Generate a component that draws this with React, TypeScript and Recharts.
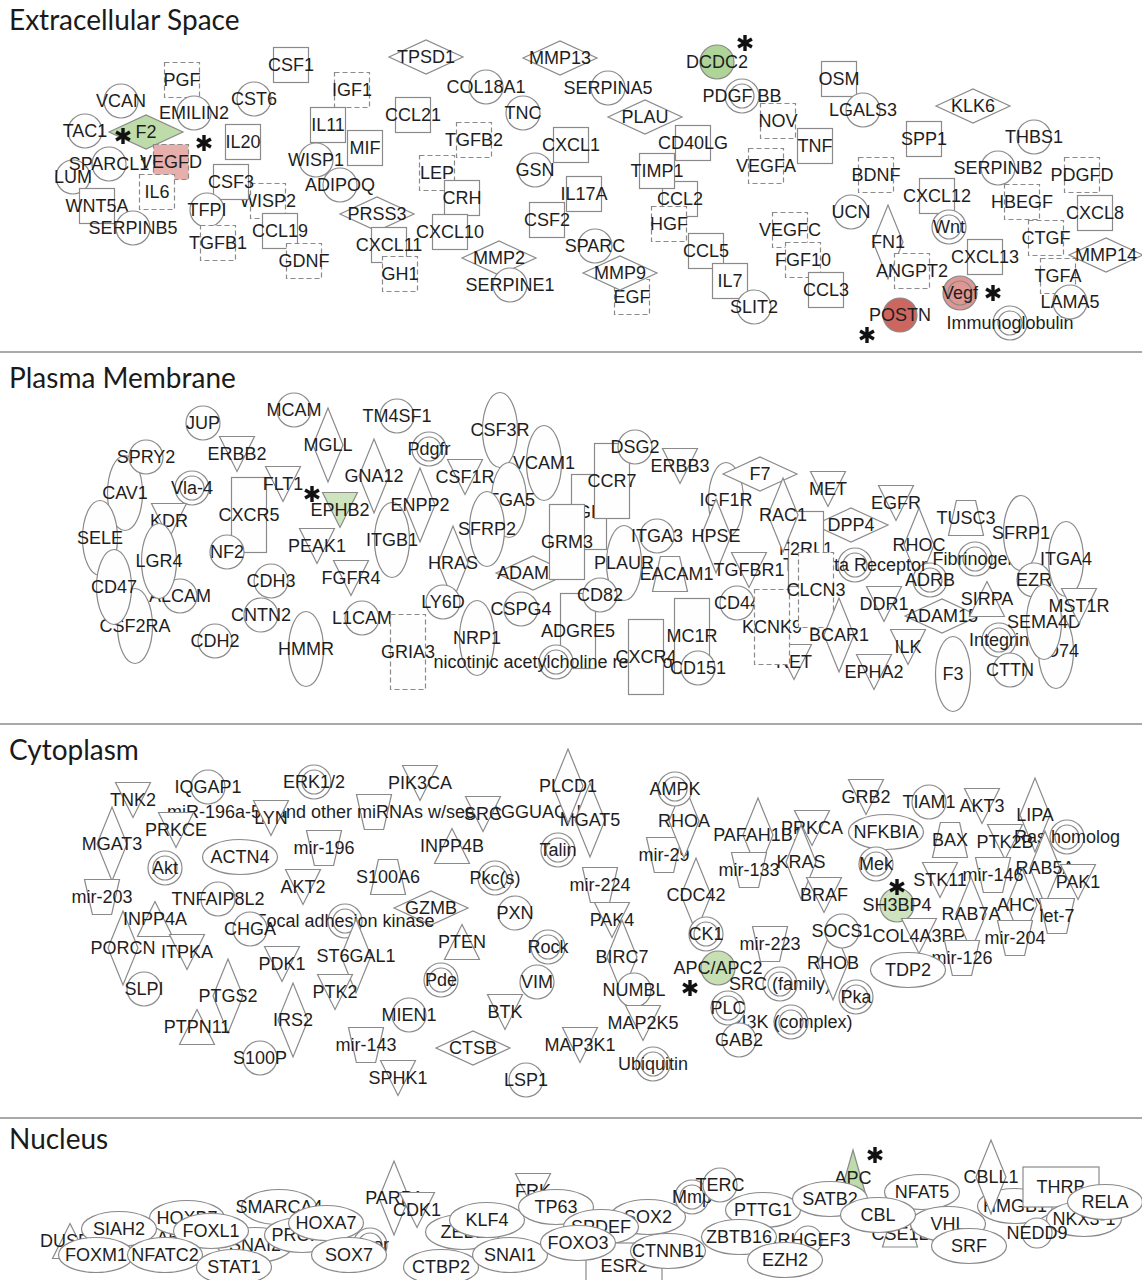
import React from "react";
import { ScatterChart, Scatter, XAxis, YAxis, ReferenceLine } from "recharts";

const W = 1142;
const H = 1280;

// [label, x, y, node type]
type Row = [string, number, number, string];

const sectionNames = ["Extracellular Space", "Plasma Membrane", "Cytoplasm", "Nucleus"];
const sectionTitleY = [20, 378, 750, 1139];
const dividerY = [352, 724, 1118];

const extracellular: Row[] = [
  ["CSF1", 291, 65, "sq"], ["PGF", 182, 80, "dsq"], ["TPSD1", 426, 57, "dh"], ["MMP13", 560, 58, "dh"],
  ["VCAN", 121, 101, "c"], ["CST6", 254, 99, "c"], ["IGF1", 352, 90, "dsq"], ["EMILIN2", 194, 113, "c"],
  ["COL18A1", 486, 87, "c"], ["SERPINA5", 608, 88, "c"], ["DCDC2", 717, 62, "c"], ["PDGF BB", 742, 96, "cc"],
  ["OSM", 839, 79, "sq"], ["LGALS3", 863, 110, "c"], ["KLK6", 973, 106, "dh"], ["TAC1", 85, 131, "c"],
  ["LUM", 73, 177, "c"], ["SPARCL1", 109, 164, "c"], ["F2", 146, 132, "dh"], ["VEGFD", 171, 162, "dsq"],
  ["IL20", 243, 142, "sq"], ["IL11", 328, 125, "sq"], ["MIF", 365, 148, "sq"], ["WISP1", 316, 160, "c"],
  ["ADIPOQ", 340, 185, "c"], ["CCL21", 413, 115, "sq"], ["TNC", 523, 113, "c"], ["PLAU", 645, 117, "dh"],
  ["NOV", 778, 121, "dsq"], ["TGFB2", 474, 140, "dsq"], ["CXCL1", 571, 145, "sq"], ["CD40LG", 693, 143, "sq"],
  ["TNF", 815, 146, "sq"], ["VEGFA", 766, 166, "dsq"], ["SPP1", 924, 139, "sq"], ["THBS1", 1034, 137, "c"],
  ["LEP", 437, 173, "dsq"], ["GSN", 535, 170, "c"], ["CCL2", 680, 199, "sq"], ["TIMP1", 657, 171, "sq"],
  ["HGF", 669, 224, "dsq"], ["BDNF", 876, 175, "dsq"], ["SERPINB2", 998, 168, "c"], ["PDGFD", 1082, 175, "dsq"],
  ["IL6", 157, 192, "dsq"], ["WNT5A", 97, 206, "sq"], ["SERPINB5", 133, 228, "c"], ["WISP2", 268, 201, "dsq"],
  ["CSF3", 231, 182, "sq"], ["TFPI", 207, 210, "c"], ["CCL19", 280, 231, "sq"], ["TGFB1", 218, 243, "dsq"],
  ["GDNF", 304, 261, "dsq"], ["PRSS3", 377, 214, "dh"], ["CXCL11", 389, 245, "sq"], ["GH1", 400, 274, "dsq"],
  ["CRH", 462, 198, "sq"], ["CXCL10", 450, 232, "sq"], ["IL17A", 584, 194, "sq"], ["CSF2", 547, 220, "sq"],
  ["SPARC", 595, 246, "c"], ["MMP2", 499, 258, "dh"], ["SERPINE1", 510, 285, "c"], ["EGF", 632, 297, "dsq"],
  ["MMP9", 620, 273, "dh"], ["CCL5", 706, 251, "sq"], ["IL7", 730, 281, "sq"], ["SLIT2", 754, 307, "c"],
  ["VEGFC", 790, 230, "dsq"], ["FGF10", 803, 260, "dsq"], ["CCL3", 826, 290, "sq"], ["CXCL12", 937, 196, "sq"],
  ["HBEGF", 1022, 202, "dsq"], ["UCN", 851, 212, "c"], ["CXCL8", 1095, 213, "sq"], ["Wnt", 949, 227, "cc"],
  ["CTGF", 1046, 238, "dsq"], ["FN1", 888, 242, "dv"], ["CXCL13", 985, 257, "sq"], ["MMP14", 1106, 255, "dh"],
  ["ANGPT2", 912, 271, "dsq"], ["TGFA", 1058, 276, "dsq"], ["Immunoglobulin", 1010, 323, "cc"],
  ["Vegf", 960, 293, "cc"], ["LAMA5", 1070, 302, "c"], ["POSTN", 900, 315, "c"],
];

const plasma: Row[] = [
  ["JUP", 203, 423, "c"], ["MCAM", 294, 410, "c"], ["TM4SF1", 397, 416, "c"], ["CAV1", 125, 493, "ev"],
  ["SPRY2", 146, 457, "c"], ["SELE", 100, 538, "ev"], ["ALCAM", 180, 596, "c"], ["CSF2RA", 135, 626, "ev"],
  ["CD47", 114, 587, "ev"], ["ERBB2", 237, 454, "td"], ["Vla-4", 192, 488, "cc"], ["KDR", 169, 521, "td"],
  ["LGR4", 159, 561, "ev"], ["CXCR5", 249, 515, "rv"], ["NF2", 227, 552, "c"], ["FLT1", 283, 484, "td"],
  ["MGLL", 328, 445, "dv"], ["GNA12", 374, 476, "dv"], ["EPHB2", 340, 510, "td"], ["PEAK1", 317, 546, "td"],
  ["ITGB1", 392, 540, "ev"], ["FGFR4", 351, 578, "td"], ["CDH3", 271, 581, "c"], ["CNTN2", 261, 615, "c"],
  ["L1CAM", 362, 618, "c"], ["CDH2", 215, 641, "c"], ["HMMR", 306, 649, "ev"], ["GRIA3", 408, 652, "drv"],
  ["Pdgfr", 429, 449, "cc"], ["ENPP2", 420, 505, "dv"], ["CSF3R", 500, 430, "ev"], ["VCAM1", 544, 463, "ev"],
  ["ITGA5", 509, 500, "ev"], ["CSF1R", 465, 477, "td"], ["SFRP2", 487, 529, "ev"], ["HRAS", 453, 563, "dv"],
  ["LY6D", 443, 602, "c"], ["NRP1", 477, 638, "ev"], ["CSPG4", 521, 609, "c"], ["ADAM10", 533, 573, "dh"],
  ["ADGRB3", 589, 512, "rv"], ["CCR7", 612, 481, "rv"], ["GRM3", 567, 542, "rv"], ["DSG2", 635, 447, "c"],
  ["ERBB3", 680, 466, "td"], ["CEACAM1", 670, 574, "trap"], ["PLAUR", 624, 563, "ev"], ["ITGA3", 657, 536, "c"],
  ["ADGRE5", 578, 631, "rv"], ["CD82", 600, 595, "c"], ["nicotinic acetylcholine receptor", 556, 662, "cc"],
  ["CXCR4", 646, 657, "rv"], ["MC1R", 692, 636, "rv"], ["CD151", 698, 668, "c"], ["IGF1R", 726, 500, "ev"],
  ["F7", 760, 474, "dh"], ["HPSE", 716, 536, "dv"], ["TGFBR1", 749, 570, "td"], ["CD44", 737, 603, "c"],
  ["RET", 794, 662, "td"], ["KCNK9", 772, 627, "drv"], ["MET", 828, 489, "td"], ["DPP4", 851, 525, "dh"],
  ["EGFR", 896, 503, "td"], ["RHOC", 919, 545, "dv"], ["ADRB", 930, 580, "cc"],
  ["Tgf beta Receptor", 855, 565, "cc"], ["F2RL1", 806, 549, "rv"], ["RAC1", 783, 515, "dv"],
  ["CLCN3", 816, 590, "drv"], ["BCAR1", 839, 635, "dv"], ["DDR1", 884, 604, "td"], ["ILK", 908, 647, "td"],
  ["EPHA2", 874, 672, "td"], ["TUSC3", 966, 518, "trap"], ["Fibrinogen", 975, 559, "cc"], ["SFRP1", 1021, 533, "ev"],
  ["ADAM15", 942, 616, "dh"], ["SIRPA", 987, 599, "tu"], ["F3", 953, 674, "ev"], ["Integrin", 999, 640, "cc"],
  ["CD74", 1056, 651, "ev"], ["EZR", 1034, 580, "c"], ["ITGA4", 1066, 559, "ev"], ["SEMA4D", 1044, 622, "ev"],
  ["MST1R", 1079, 606, "td"], ["CTTN", 1010, 670, "c"],
];

const cytoplasm: Row[] = [
  ["miR-196a-5p and other miRNAs w/seed AGGUAGU", 374, 812, "mir"], ["IQGAP1", 208, 787, "c"],
  ["TNK2", 133, 800, "td"], ["MGAT3", 112, 844, "dv"], ["PRKCE", 176, 830, "td"], ["LYN", 271, 818, "td"],
  ["ERK1/2", 314, 782, "cc"], ["PIK3CA", 420, 783, "td"], ["SRC", 483, 814, "td"], ["MGAT5", 590, 820, "dv"],
  ["PLCD1", 568, 786, "dv"], ["Akt", 165, 868, "cc"], ["ACTN4", 240, 857, "eh"], ["mir-196", 324, 848, "mir"],
  ["INPP4B", 452, 846, "tu"], ["Talin", 558, 850, "cc"], ["mir-203", 102, 897, "mir"],
  ["TNFAIP8L2", 218, 899, "c"], ["AKT2", 303, 887, "td"], ["S100A6", 388, 877, "trap"], ["Pkc(s)", 495, 878, "cc"],
  ["GZMB", 431, 908, "dh"], ["Focal adhesion kinase", 345, 921, "cc"], ["CHGA", 250, 929, "c"],
  ["PORCN", 123, 948, "dv"], ["INPP4A", 155, 919, "tu"], ["ITPKA", 187, 952, "td"], ["SLPI", 144, 989, "c"],
  ["PXN", 515, 913, "c"], ["PTEN", 462, 942, "tu"], ["Rock", 548, 947, "cc"], ["PDK1", 282, 964, "td"],
  ["ST6GAL1", 356, 956, "dv"], ["PTK2", 335, 992, "td"], ["PTGS2", 228, 996, "dv"], ["IRS2", 293, 1020, "dv"],
  ["PTPN11", 197, 1027, "tu"], ["S100P", 260, 1058, "c"], ["Pde", 441, 980, "cc"], ["VIM", 537, 982, "c"],
  ["MIEN1", 409, 1015, "c"], ["BTK", 505, 1012, "td"], ["mir-143", 366, 1045, "mir"], ["CTSB", 473, 1048, "dh"],
  ["MAP3K1", 580, 1045, "td"], ["SPHK1", 398, 1078, "td"], ["LSP1", 526, 1080, "c"], ["mir-224", 600, 885, "mir"],
  ["PAK4", 612, 920, "td"], ["BIRC7", 622, 957, "dv"], ["NUMBL", 634, 990, "c"], ["MAP2K5", 643, 1023, "td"],
  ["Ubiquitin", 653, 1064, "cc"], ["mir-29", 664, 855, "mir"], ["RHOA", 684, 821, "dv"], ["AMPK", 675, 789, "cc"],
  ["CDC42", 696, 895, "dv"], ["CK1", 706, 934, "cc"], ["PRKCA", 812, 828, "td"], ["PAFAH1B1", 758, 835, "dv"],
  ["mir-133", 749, 870, "mir"], ["KRAS", 801, 862, "dv"], ["BRAF", 824, 895, "td"], ["mir-223", 770, 944, "mir"],
  ["APC/APC2", 718, 968, "c"], ["PI3K (complex)", 791, 1022, "cc"], ["SRC (family)", 780, 984, "cc"],
  ["PLC", 728, 1008, "cc"], ["GAB2", 739, 1040, "c"], ["RHOB", 833, 963, "dv"], ["SOCS1", 842, 931, "c"],
  ["Pka", 856, 997, "cc"], ["GRB2", 866, 797, "td"], ["NFKBIA", 886, 832, "eh"], ["Mek", 876, 864, "cc"],
  ["TIAM1", 929, 802, "c"], ["AKT3", 982, 806, "td"], ["BAX", 950, 840, "trap"], ["LIPA", 1035, 815, "dv"],
  ["PTK2B", 1005, 842, "td"], ["Ras homolog", 1067, 837, "cc"], ["STK11", 940, 880, "td"],
  ["RAB5A", 1045, 868, "dv"], ["AHCY", 1022, 905, "dv"], ["mir-146", 993, 875, "mir"], ["SH3BP4", 897, 905, "c"],
  ["PAK1", 1078, 882, "td"], ["let-7", 1057, 916, "mir"], ["COL4A3BP", 919, 936, "td"], ["RAB7A", 971, 914, "dv"],
  ["mir-126", 962, 958, "mir"], ["mir-204", 1015, 938, "mir"], ["TDP2", 908, 970, "eh"],
];

const nucleus: Row[] = [
  ["HOXA5", 148, 1238, "eh"], ["DUSP6", 70, 1241, "tu"], ["HOXB7", 187, 1218, "eh"], ["SMARCA4", 279, 1207, "eh"],
  ["SNAI2", 255, 1245, "eh"], ["PROX1", 302, 1235, "eh"], ["SIAH2", 119, 1229, "eh"], ["FOXL1", 211, 1231, "eh"],
  ["HOXA7", 326, 1223, "eh"], ["FOXM1", 96, 1255, "eh"], ["NFATC2", 165, 1255, "eh"], ["STAT1", 234, 1267, "eh"],
  ["Ncor", 370, 1245, "cc"], ["SOX7", 349, 1255, "eh"], ["PARP1", 394, 1198, "dv"], ["CDK1", 417, 1210, "td"],
  ["ZEB1", 463, 1232, "eh"], ["KLF4", 487, 1220, "eh"], ["CTBP2", 441, 1267, "eh"], ["SNAI1", 510, 1255, "eh"],
  ["FRK", 533, 1191, "td"], ["TP63", 556, 1207, "eh"], ["SOX2", 648, 1217, "eh"], ["SPDEF", 601, 1227, "eh"],
  ["ESR2", 624, 1266, "rh"], ["FOXO3", 578, 1243, "eh"], ["CTNNB1", 668, 1251, "eh"], ["Mmp", 692, 1197, "cc"],
  ["TERC", 720, 1185, "c"], ["PTTG1", 763, 1210, "eh"], ["ARHGEF3", 808, 1240, "c"], ["ZBTB16", 739, 1237, "eh"],
  ["EZH2", 785, 1260, "eh"], ["APC", 853, 1178, "tu"], ["SATB2", 830, 1199, "eh"], ["NFAT5", 922, 1192, "eh"],
  ["CSE1L", 900, 1234, "trap"], ["VHL", 948, 1224, "eh"], ["CBL", 878, 1215, "eh"], ["SRF", 969, 1246, "eh"],
  ["HMGB1", 1015, 1206, "eh"], ["CBLL1", 991, 1177, "dv"], ["THRB", 1061, 1187, "rh"], ["NKX3-1", 1084, 1219, "eh"],
  ["NEDD9", 1037, 1233, "c"], ["RELA", 1105, 1202, "eh"],
];

// measured change for highlighted molecules (negative = down, positive = up)
const foldChange: [string, number][] = [
  ["F2", -1.6], ["DCDC2", -1.8], ["EPHB2", -1.4], ["APC/APC2", -1.5], ["SH3BP4", -1.4], ["APC", -1.6],
  ["VEGFD", 1.6], ["Vegf", 2.0], ["POSTN", 2.8],
];

const STROKE = "#8a8a8a";
const FONT = "'Liberation Sans', Arial, sans-serif";

const BASE: Record<string, [number, number]> = {
  c: [34, 34], cc: [34, 34], sq: [35, 35], dsq: [35, 35], dh: [74, 34], dv: [30, 74],
  td: [35, 35], tu: [35, 35], ev: [35, 75], eh: [75, 35], rv: [35, 75], drv: [35, 75],
  trap: [35, 35], mir: [35, 35], rh: [75, 40],
};

const SIZE_OVERRIDE: Record<string, [number, number]> = {
  APC: [32, 56], ESR2: [76, 46], THRB: [76, 40], NEDD9: [30, 32], ARHGEF3: [28, 28], CSE1L: [35, 26],
};

// asterisk offsets from node centre
const STAR: Record<string, [number, number]> = {
  F2: [-23, 4], VEGFD: [33, -19], DCDC2: [28, -19], POSTN: [-33, 20], Vegf: [33, 0],
  EPHB2: [-28, -16], "APC/APC2": [-28, 20], SH3BP4: [0, -18], APC: [22, -23],
};

const fcMap = new Map(foldChange);

const mix = (a: number[], b: number[], t: number) =>
  `rgb(${a.map((v, i) => Math.round(v + (b[i] - v) * t)).join(",")})`;

function fillFor(name: string) {
  const v = fcMap.get(name);
  if (v === undefined) return "#fefefe";
  if (v < 0) return mix([236, 244, 228], [160, 204, 132], Math.min(1, (-v - 1) / 1));
  return mix([243, 212, 210], [206, 102, 96], Math.min(1, (v - 1) / 1.8));
}

function outline(type: string, x: number, y: number, w: number, h: number, fill: string) {
  const s = { fill, stroke: STROKE, strokeWidth: 1.2 };
  const hw = w / 2;
  const hh = h / 2;
  const pts = (p: number[][]) => p.map((q) => q.join(",")).join(" ");
  switch (type) {
    case "c":
      return <circle cx={x} cy={y} r={hw} {...s} />;
    case "cc":
      return (
        <g>
          <circle cx={x} cy={y} r={hw} {...s} />
          <circle cx={x} cy={y} r={hw - 5} fill="none" stroke={STROKE} strokeWidth={1.2} />
        </g>
      );
    case "sq":
    case "rv":
    case "rh":
      return <rect x={x - hw} y={y - hh} width={w} height={h} {...s} />;
    case "dsq":
    case "drv":
      return <rect x={x - hw} y={y - hh} width={w} height={h} {...s} strokeDasharray="5 3" />;
    case "dh":
    case "dv":
      return <polygon points={pts([[x - hw, y], [x, y - hh], [x + hw, y], [x, y + hh]])} {...s} />;
    case "td":
      return <polygon points={pts([[x - hw, y - hh], [x + hw, y - hh], [x, y + hh]])} {...s} />;
    case "tu":
      return <polygon points={pts([[x, y - hh], [x + hw, y + hh], [x - hw, y + hh]])} {...s} />;
    case "ev":
    case "eh":
      return <ellipse cx={x} cy={y} rx={hw} ry={hh} {...s} />;
    case "trap":
      return <polygon points={pts([[x - hw * 0.55, y - hh], [x + hw * 0.55, y - hh], [x + hw, y + hh], [x - hw, y + hh]])} {...s} />;
    case "mir":
      return <polygon points={pts([[x - hw, y - hh], [x + hw, y - hh], [x + hw * 0.55, y + hh], [x - hw * 0.55, y + hh]])} {...s} />;
    default:
      return null;
  }
}

function Asterisk({ x, y }: { x: number; y: number }) {
  const r = 8;
  const arms = [90, 30, 150].map((a) => {
    const t = (a * Math.PI) / 180;
    return [Math.cos(t) * r, Math.sin(t) * r];
  });
  return (
    <g stroke="#111" strokeWidth={3.4}>
      {arms.map(([dx, dy], i) => (
        <line key={i} x1={x - dx} y1={y - dy} x2={x + dx} y2={y + dy} />
      ))}
    </g>
  );
}

const NodeShape = (props: any) => {
  const { cx, cy, payload } = props;
  if (cx == null || cy == null) return null;
  const { name, type } = payload;
  const [w, h] = SIZE_OVERRIDE[name] ?? BASE[type];
  const star = STAR[name];
  return (
    <g>
      {outline(type, cx, cy, w, h, fillFor(name))}
      <text x={cx} y={cy} dy="0.36em" textAnchor="middle" fontFamily={FONT} fontSize={18} fill="#1e1e1e">
        {name}
      </text>
      {star && <Asterisk x={cx + star[0]} y={cy + star[1]} />}
    </g>
  );
};

const TitleShape = (props: any) => {
  const { cx, cy, payload } = props;
  if (cx == null || cy == null) return null;
  return (
    <text x={cx} y={cy} dy="0.36em" fontFamily="Lato, 'Open Sans', sans-serif" fontSize={28} fill="#1a1a1a">
      {payload.name}
    </text>
  );
};

const toPoints = (rows: Row[]) => rows.map(([name, x, y, type]) => ({ name, x, y, type }));

const titles = sectionNames.map((name, i) => ({ name, x: 9, y: sectionTitleY[i] }));

export default function App() {
  const series = [extracellular, plasma, cytoplasm, nucleus];
  return (
    <div style={{ position: "absolute", left: 0, top: 0, width: W, height: H, background: "#fff" }}>
      <ScatterChart width={W} height={H} margin={{ top: 0, right: 0, bottom: 0, left: 0 }}>
        <XAxis type="number" dataKey="x" domain={[0, W]} hide />
        <YAxis type="number" dataKey="y" domain={[0, H]} reversed hide />
        {dividerY.map((y) => (
          <ReferenceLine key={y} y={y} stroke="#555" strokeWidth={1.2} />
        ))}
        <Scatter data={titles} shape={TitleShape} isAnimationActive={false} />
        {series.map((rows, i) => (
          <Scatter key={i} data={toPoints(rows)} shape={NodeShape} isAnimationActive={false} />
        ))}
      </ScatterChart>
    </div>
  );
}
